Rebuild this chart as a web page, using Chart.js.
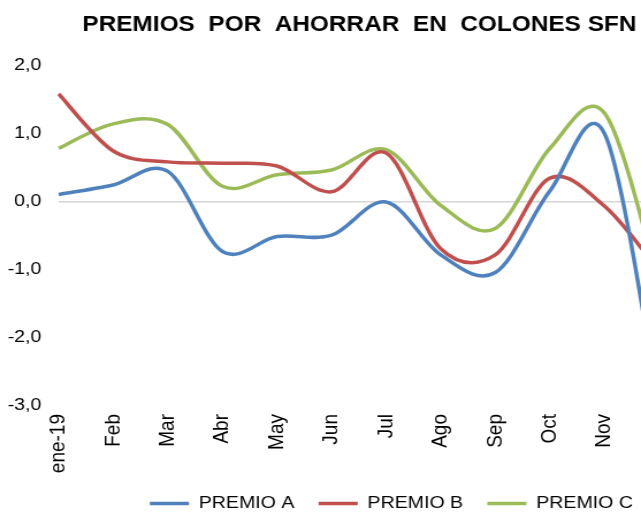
<!DOCTYPE html>
<html>
<head>
<meta charset="utf-8">
<script src="https://cdn.jsdelivr.net/npm/chart.js@4/dist/chart.umd.min.js"></script>
<style>
  html, body { margin: 0; padding: 0; background: #fff; overflow: hidden; }
</style>
</head>
<body>
<canvas id="c" width="557" height="512" style="display:block;width:641px;height:512px"></canvas>
<script>
// Monthly series (2019); the December point lies past the right edge of the frame
const months  = ['ene-19', 'Feb', 'Mar', 'Abr', 'May', 'Jun', 'Jul', 'Ago', 'Sep', 'Oct', 'Nov', 'Dic'];
const premioA = [0.10, 0.24, 0.44, -0.74, -0.52, -0.50, -0.01, -0.79, -1.05, 0.15, 1.00, -3.00];
const premioB = [1.58, 0.74, 0.58, 0.56, 0.52, 0.14, 0.71, -0.70, -0.79, 0.34, -0.07, -1.02];
const premioC = [0.78, 1.14, 1.13, 0.22, 0.39, 0.46, 0.76, -0.06, -0.40, 0.78, 1.30, -1.21];
const seriesNames = ['PREMIO A', 'PREMIO B', 'PREMIO C'];
const yMin = -3, yMax = 2, yStep = 1;

const FONT = "'Liberation Sans', Arial, sans-serif";
const toPoints = arr => arr.map((v, i) => ({ x: i, y: v }));
const fmt = v => v.toFixed(1).replace('.', ',');

// Spreadsheet-style smoothing: each point's handles are 1/6 of the chord
// between its neighbours (unweighted Catmull-Rom).
const chordSmoothing = {
  id: 'chordSmoothing',
  beforeDatasetsDraw(chart) {
    chart.getSortedVisibleDatasetMetas().forEach(meta => {
      const line = meta.dataset;
      const pts = meta.data;
      if (!line || !pts.length) return;
      line.updateControlPoints(chart.chartArea, meta.indexAxis);
      const n = pts.length;
      for (let i = 0; i < n; i++) {
        const p = pts[i];
        const prev = pts[Math.max(i - 1, 0)];
        const next = pts[Math.min(i + 1, n - 1)];
        const dx = (next.x - prev.x) / 6;
        const dy = (next.y - prev.y) / 6;
        p.cp1x = p.x - dx; p.cp1y = p.y - dy;
        p.cp2x = p.x + dx; p.cp2y = p.y + dy;
      }
    });
  }
};

// Small adjustments to where the title and legend sit
const boxNudge = {
  id: 'boxNudge',
  afterLayout(chart) {
    const t = chart.titleBlock;
    if (t) { t.left -= 4; t.right -= 4; }
    const l = chart.legend;
    if (l) { l.left += 14; l.right += 14; l.top -= 11; l.bottom -= 11; }
  }
};

const mk = (label, data, color) => ({
  label,
  data: toPoints(data),
  borderColor: color,
  backgroundColor: color,
  borderWidth: 3.5,
  pointRadius: 0,
  pointHoverRadius: 0,
  tension: 0.35,
  fill: false,
  clip: false
});

new Chart(document.getElementById('c'), {
  type: 'line',
  data: {
    datasets: [
      mk(seriesNames[0], premioA, '#4F81BD'),
      mk(seriesNames[1], premioB, '#C0504D'),
      mk(seriesNames[2], premioC, '#9BBB59')
    ]
  },
  options: {
    responsive: false,
    devicePixelRatio: 1,
    animation: false,
    events: [],
    layout: { padding: { left: 0, right: 0, top: 0, bottom: -21 } },
    elements: { line: { capBezierPoints: false } },
    plugins: {
      title: {
        display: true,
        text: 'PREMIOS  POR  AHORRAR  EN  COLONES SFN',
        align: 'end',
        color: '#000',
        font: { family: FONT, size: 21.2, weight: 'bold' },
        padding: { top: 12, bottom: 28 }
      },
      legend: {
        display: true,
        position: 'bottom',
        align: 'end',
        labels: {
          color: '#000',
          font: { family: FONT, size: 17 },
          usePointStyle: true,
          pointStyle: 'line',
          pointStyleWidth: 34,
          padding: 21
        }
      },
      tooltip: { enabled: false }
    },
    scales: {
      x: {
        type: 'linear',
        min: 0,
        max: 10.67,
        offset: false,
        grid: { display: false, drawTicks: false },
        border: { display: false },
        ticks: {
          stepSize: 1,
          includeBounds: false,
          autoSkip: false,
          minRotation: 90,
          maxRotation: 90,
          padding: 9,
          color: '#000',
          font: { family: FONT, size: 19 },
          callback: v => (Number.isInteger(v) && months[v] !== undefined) ? months[v] : ''
        },
        afterFit: s => { s.height = 80; }
      },
      y: {
        min: yMin,
        max: yMax,
        grid: {
          drawTicks: false,
          lineWidth: 1.5,
          color: c => (c.tick && c.tick.value === 0) ? '#d6d6d6' : 'rgba(0,0,0,0)'
        },
        border: { display: false },
        ticks: {
          stepSize: yStep,
          padding: 15,
          color: '#000',
          font: { family: FONT, size: 17 },
          callback: v => fmt(v)
        },
        afterFit: s => { s.width = 51; }
      }
    }
  },
  plugins: [chordSmoothing, boxNudge]
});
</script>
</body>
</html>
